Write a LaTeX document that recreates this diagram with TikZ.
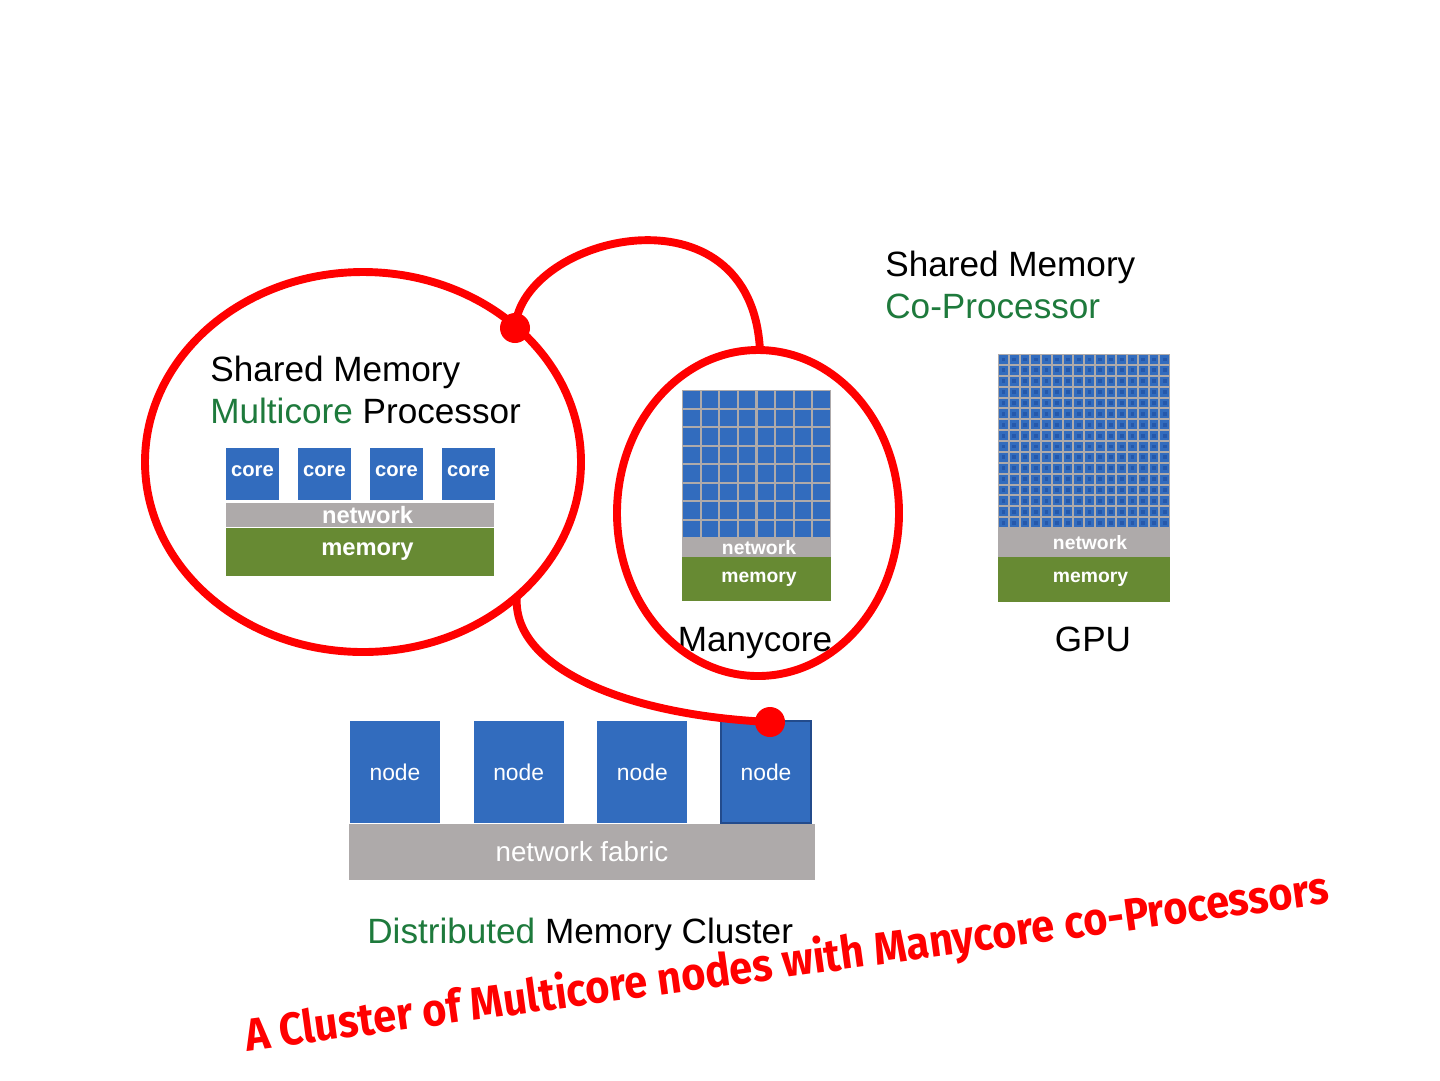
\documentclass[tikz,border=0pt]{standalone}
\usepackage{fontspec}
\setmainfont{Liberation Sans}
\newfontfamily\handfont{Fira Sans}
\usetikzlibrary{positioning}
\definecolor{chipblue}{RGB}{50,108,190}
\definecolor{cellblue}{RGB}{38,88,170}
\definecolor{netgray}{RGB}{174,170,170}
\definecolor{memgreen}{RGB}{103,138,51}
\definecolor{textgreen}{RGB}{30,122,60}

\begin{document}
\begin{tikzpicture}[x=0.02cm, y=-0.02cm,
        block/.style = {fill=#1, text=white, inner sep=0pt, outer sep=0pt},
        bigtext/.style = {font=\fontsize{20}{24}\selectfont, inner sep=0pt},
        loop/.style = {draw=red, line width=4.5pt}]
    \useasboundingbox[fill=white] (0,0) rectangle (1440,1080);

    % multicore processor
    \node[bigtext, anchor=base west] (smtitle) at (210,381) {Shared Memory};
    \node[bigtext, anchor=base west] (mctitle) at (210,423) {\textcolor{textgreen}{Multicore} Processor};
    \foreach \i in {1,...,4}
        \node[block=chipblue, minimum width=1.06cm, minimum height=1.04cm,
              font=\fontsize{11.5}{12}\selectfont\bfseries] (core\i) at ({252.5+72*(\i-1)},474) {\raisebox{0.1cm}{core}};
    \node[block=netgray, minimum width=5.36cm, minimum height=0.48cm,
          font=\fontsize{13.5}{14}\selectfont\bfseries] (mcnet) at (360,515) {\hspace*{0.3cm}network};
    \node[block=memgreen, minimum width=5.36cm, minimum height=0.96cm,
          font=\fontsize{13.5}{14}\selectfont\bfseries] (mcmem) at (360,552) {\hspace*{0.3cm}memory};

    % manycore chip
    \fill[netgray] (682,390) rectangle (831,538);
    \foreach \i in {0,...,7}
        \foreach \j in {0,...,7}
            \fill[chipblue] ({683+18.625*\i},{391+18.5*\j}) rectangle +(16.6,16.5);
    \node[block=netgray, minimum width=2.98cm, minimum height=0.38cm,
          font=\fontsize{11}{12}\selectfont\bfseries] (manynet) at (756.5,547.5) {\hspace*{0.1cm}network};
    \node[block=memgreen, minimum width=2.98cm, minimum height=0.88cm,
          font=\fontsize{11}{12}\selectfont\bfseries] (manymem) at (756.5,579) {\hspace*{0.1cm}memory};
    \node[bigtext, anchor=base] (manylabel) at (755,651) {Manycore};

    % gpu
    \node[bigtext, anchor=base west] (cptitle) at (885,276) {Shared Memory};
    \node[bigtext, anchor=base west, text=textgreen] (cpsub) at (885,318) {Co-Processor};
    \fill[netgray] (998,354) rectangle (1170,528);
    \foreach \i in {0,...,15}
        \foreach \j in {0,...,15} {
            \fill[chipblue] ({999+10.75*\i},{355+10.875*\j}) rectangle +(8.8,8.9);
            \fill[cellblue] ({1001.5+10.75*\i},{357.5+10.875*\j}) rectangle +(3.8,3.9);
        }
    \node[block=netgray, minimum width=3.44cm, minimum height=0.58cm,
          font=\fontsize{11}{12}\selectfont\bfseries] (gpunet) at (1084,542.5) {\hspace*{0.24cm}network};
    \node[block=memgreen, minimum width=3.44cm, minimum height=0.9cm,
          font=\fontsize{11}{12}\selectfont\bfseries] (gpumem) at (1084,579.5) {\hspace*{0.26cm}memory};
    \node[bigtext, anchor=base] (gpulabel) at (1093,651) {GPU};

    % cluster
    \foreach \i in {1,...,4}
        \node[block=chipblue, minimum width=1.8cm, minimum height=2.04cm,
              font=\fontsize{13}{14}\selectfont] (node\i) at ({395+123.67*(\i-1)},772) {node};
    \draw[draw={rgb,255:red,35;green,75;blue,140}, line width=1pt] (node4.south west) rectangle (node4.north east);
    \node[block=netgray, minimum width=9.32cm, minimum height=1.12cm,
          font=\fontsize{15.8}{17}\selectfont] (fabric) at (582,852) {network fabric};
    \node[bigtext, anchor=base west] (cltitle) at (367,943) {\textcolor{textgreen}{Distributed} Memory Cluster};

    % red loops
    \coordinate (dottop) at (515,328);
    \coordinate (dotnode) at (770,722);
    \coordinate (manytop) at (760,351);
    \coordinate (mcbottom) at (517,595);
    \draw[loop] (363,462) ellipse [x radius=218, y radius=190];
    \draw[loop] (758,513) ellipse [x radius=141, y radius=163];
    \draw[loop] (dottop) .. controls (522,235) and (752,180) .. (manytop);
    \draw[loop] (mcbottom) .. controls (510,665) and (620,715) .. (dotnode);
    \fill[red] (dottop) circle [radius=15];
    \fill[red] (dotnode) circle [radius=15];

    \node[text=red, rotate=7.8, xscale=0.91, font=\handfont\fontsize{26}{28}\selectfont\bfseries] (remark) at (787,964)
        {A Cluster of Multicore nodes with Manycore co-Processors};
\end{tikzpicture}
\end{document}
